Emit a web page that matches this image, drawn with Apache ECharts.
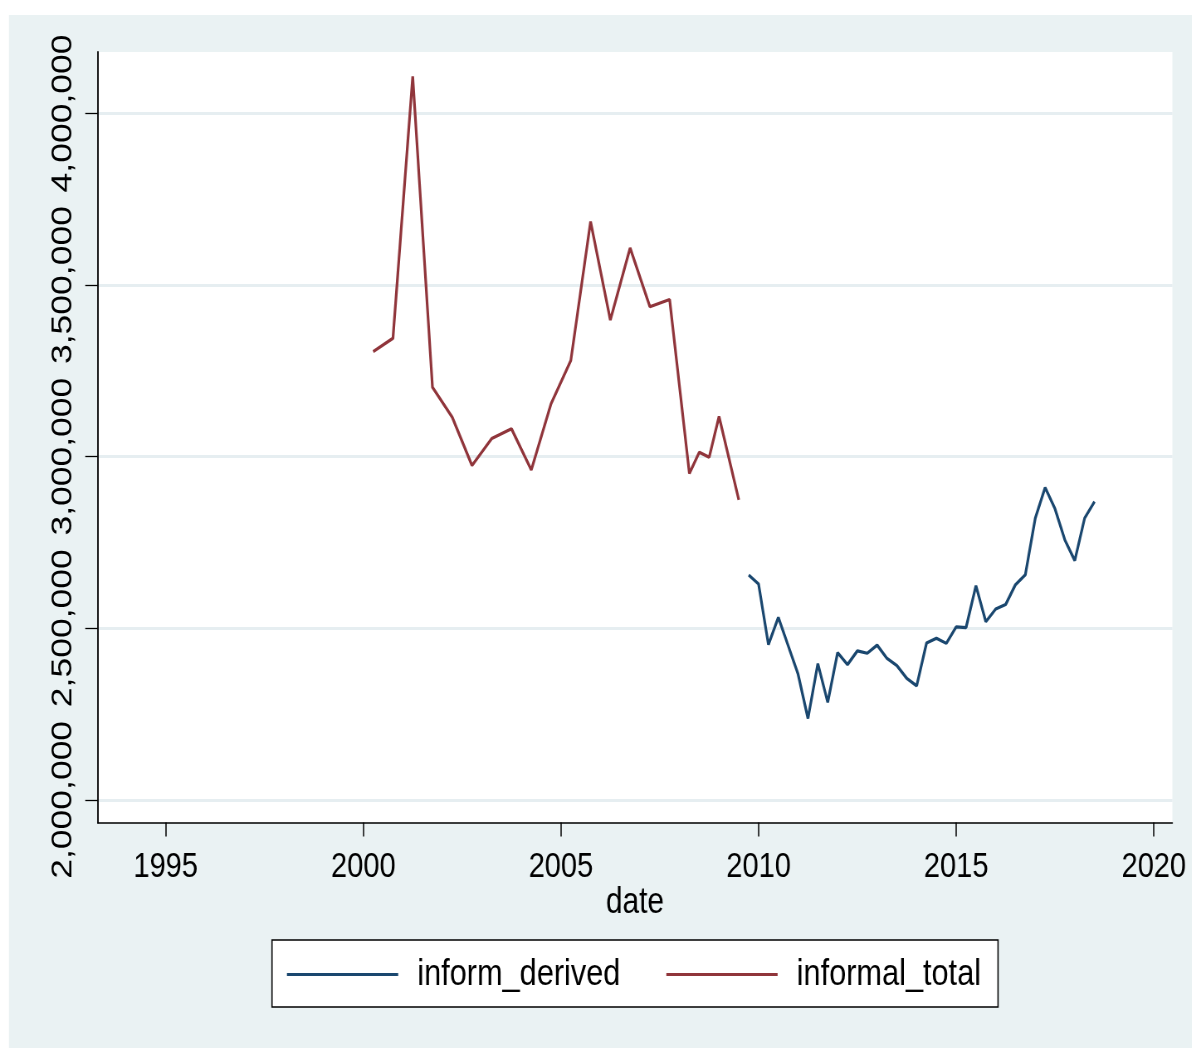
<!DOCTYPE html>
<html>
<head>
<meta charset="utf-8">
<title>informal employment</title>
<script src="https://cdn.jsdelivr.net/npm/echarts@6/dist/echarts.min.js"></script>
<style>
  html, body { margin: 0; padding: 0; background: #ffffff; overflow: hidden; }
  /* the graph is laid out on a wider canvas and condensed horizontally */
  #chart { width: 1436px; height: 1048px; transform: scaleX(0.83); transform-origin: 0 0; }
</style>
</head>
<body>
<div id="chart"></div>
<script>
// Quarterly observations (yyyy"q"q)
const derivedDates = ["2009q4","2010q1","2010q2","2010q3","2010q4","2011q1","2011q2","2011q3","2011q4",
  "2012q1","2012q2","2012q3","2012q4","2013q1","2013q2","2013q3","2013q4","2014q1","2014q2","2014q3",
  "2014q4","2015q1","2015q2","2015q3","2015q4","2016q1","2016q2","2016q3","2016q4","2017q1","2017q2",
  "2017q3","2017q4","2018q1","2018q2","2018q3"];
const derivedValues = [2655000, 2629000, 2452000, 2532000, 2449000, 2366000, 2237000, 2397000, 2284000,
  2429000, 2394000, 2434000, 2427000, 2451000, 2412000, 2391000, 2354000, 2332000, 2457000, 2471000,
  2456000, 2504000, 2502000, 2624000, 2519000, 2556000, 2569000, 2627000, 2656000, 2820000, 2910000,
  2848000, 2757000, 2697000, 2821000, 2869000];

const totalDates = ["2000q2","2000q4","2001q2","2001q4","2002q2","2002q4","2003q2","2003q4","2004q2",
  "2004q4","2005q2","2005q4","2006q2","2006q4","2007q2","2007q4","2008q2","2008q3","2008q4","2009q1",
  "2009q3"];
const totalValues = [3306000, 3345000, 4108000, 3202000, 3115000, 2974000, 3053000, 3081000, 2961000,
  3154000, 3280000, 3685000, 3398000, 3608000, 3437000, 3458000, 2951000, 3013000, 2998000, 3117000,
  2874000];

const xTicks = [1995, 2000, 2005, 2010, 2015, 2020];
const yTicks = [2000000, 2500000, 3000000, 3500000, 4000000];

const seriesNames = ["inform_derived", "informal_total"];

// "2009q4" -> 2009.75
function quarterToYear(q) {
  const [y, n] = q.split("q");
  return Number(y) + (Number(n) - 1) / 4;
}
function pairs(dates, values) {
  return dates.map((d, i) => [quarterToYear(d), values[i]]);
}

const font = "'Liberation Sans', Arial, Helvetica, sans-serif";
const bg = "#EAF2F3";

const chart = echarts.init(document.getElementById("chart"), null, { renderer: "canvas" });
chart.setOption({
  animation: false,
  backgroundColor: bg,
  graphic: [
    { type: "rect", shape: { x: 0, y: 0, width: 1436, height: 15 }, style: { fill: "#ffffff" }, silent: true },
    { type: "rect", shape: { x: 0, y: 0, width: 10.8, height: 1048 }, style: { fill: "#ffffff" }, silent: true }
  ],
  grid: {
    left: 117.7, top: 52, right: 23.5, bottom: 225.5,
    show: true, backgroundColor: "#ffffff", borderWidth: 0,
    containLabel: false
  },
  xAxis: {
    type: "value",
    min: 1993.28, max: 2020.47,
    name: "date",
    nameLocation: "middle",
    nameGap: 63,
    nameMoveOverlap: false,
    nameTextStyle: { fontFamily: font, fontSize: 36, color: "#000" },
    axisLine: { show: true, onZero: false, lineStyle: { color: "#000", width: 1.5 } },
    axisTick: { show: true, length: 14, lineStyle: { color: "#000", width: 1.5 }, customValues: xTicks },
    axisLabel: {
      customValues: xTicks, margin: 27,
      fontFamily: font, fontSize: 35, color: "#000",
      formatter: v => String(v)
    },
    splitLine: { show: false }
  },
  yAxis: {
    type: "value",
    min: 1934000, max: 4179000,
    axisLine: { show: true, onZero: false, lineStyle: { color: "#000", width: 1.8 } },
    axisTick: { show: true, length: 15, lineStyle: { color: "#000", width: 1.3 }, customValues: yTicks },
    axisLabel: {
      customValues: yTicks, rotate: 90, margin: 23,
      fontFamily: font, fontSize: 35.5, color: "#000",
      formatter: v => Number(v).toLocaleString("en-US")
    },
    splitLine: { show: true, lineStyle: { color: "#E6EEF1", width: 3 } }
  },
  legend: {
    data: seriesNames,
    left: 327.7, top: 940,
    orient: "horizontal",
    icon: "rect",
    itemWidth: 134, itemHeight: 3,
    itemGap: 55.4,
    padding: [16, 20.5, 14, 18],
    backgroundColor: "#ffffff",
    borderColor: "#000",
    borderWidth: 1.6,
    borderRadius: 0,
    textStyle: { fontFamily: font, fontSize: 37, color: "#000", padding: [0, 0, 0, 18] }
  },
  series: [
    {
      name: seriesNames[0], type: "line",
      data: pairs(derivedDates, derivedValues),
      showSymbol: false, symbol: "none",
      lineStyle: { color: "#1A476F", width: 3.2 },
      itemStyle: { color: "#1A476F" }
    },
    {
      name: seriesNames[1], type: "line",
      data: pairs(totalDates, totalValues),
      showSymbol: false, symbol: "none",
      lineStyle: { color: "#90353B", width: 3.2 },
      itemStyle: { color: "#90353B" }
    }
  ]
});
</script>
</body>
</html>
